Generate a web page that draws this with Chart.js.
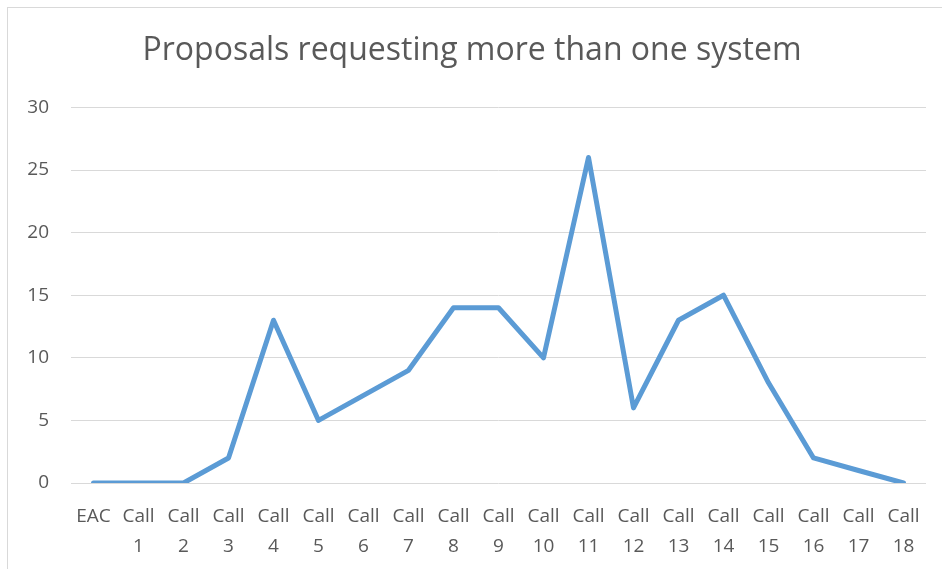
<!DOCTYPE html>
<html>
<head>
<meta charset="utf-8">
<script src="https://cdn.jsdelivr.net/npm/chart.js@4/dist/chart.umd.min.js"></script>
<style>
  html, body { margin: 0; padding: 0; background: #fff; overflow: hidden; }
  #frame { position: absolute; left: 7px; top: 7px; width: 1000px; height: 1000px;
           border-left: 1px solid #d9d9d9; border-top: 1px solid #d9d9d9; }
  #wrap { position: absolute; left: 18px; top: 0; width: 924px; height: 569px; }
</style>
</head>
<body>
<div id="frame"></div>
<div id="wrap"><canvas id="chart"></canvas></div>
<script>
const categories = ['EAC', ['Call', '1'], ['Call', '2'], ['Call', '3'], ['Call', '4'], ['Call', '5'],
  ['Call', '6'], ['Call', '7'], ['Call', '8'], ['Call', '9'], ['Call', '10'], ['Call', '11'],
  ['Call', '12'], ['Call', '13'], ['Call', '14'], ['Call', '15'], ['Call', '16'], ['Call', '17'], ['Call', '18']];
const proposals = [0, 0, 0, 2, 13, 5, 7, 9, 14, 14, 10, 26, 6, 13, 15, 8, 2, 1, 0];
const yMin = 0, yMax = 30, yStep = 5;

const textColor = '#595959';
const font = 'Open Sans';

new Chart(document.getElementById('chart'), {
  type: 'line',
  data: {
    labels: categories,
    datasets: [{
      data: proposals,
      borderColor: '#5b9bd5',
      borderWidth: 5,
      borderCapStyle: 'round',
      borderJoinStyle: 'round',
      pointRadius: 0,
      tension: 0,
      fill: false
    }]
  },
  options: {
    responsive: true,
    maintainAspectRatio: false,
    animation: false,
    layout: { padding: { left: 0, right: 16, top: 0, bottom: 0 } },
    plugins: {
      legend: { display: false },
      tooltip: { enabled: false },
      title: {
        display: true,
        text: 'Proposals requesting more than one system',
        color: textColor,
        font: { family: font, size: 32, weight: 'normal' },
        padding: { top: 32, bottom: 37 }
      }
    },
    scales: {
      x: {
        offset: true,
        grid: { display: false },
        border: { display: false },
        ticks: {
          color: textColor, font: { family: font, size: 19, lineHeight: 1.55 },
          maxRotation: 0, autoSkip: false, padding: 11
        },
        afterFit: s => { s.height = 86; }
      },
      y: {
        min: yMin, max: yMax,
        grid: { color: '#d9d9d9', lineWidth: 1, drawTicks: false },
        border: { display: false },
        ticks: { stepSize: yStep, color: textColor, font: { family: font, size: 19 }, padding: 22 },
        afterFit: s => { s.width = 53; }
      }
    }
  }
});
</script>
</body>
</html>
